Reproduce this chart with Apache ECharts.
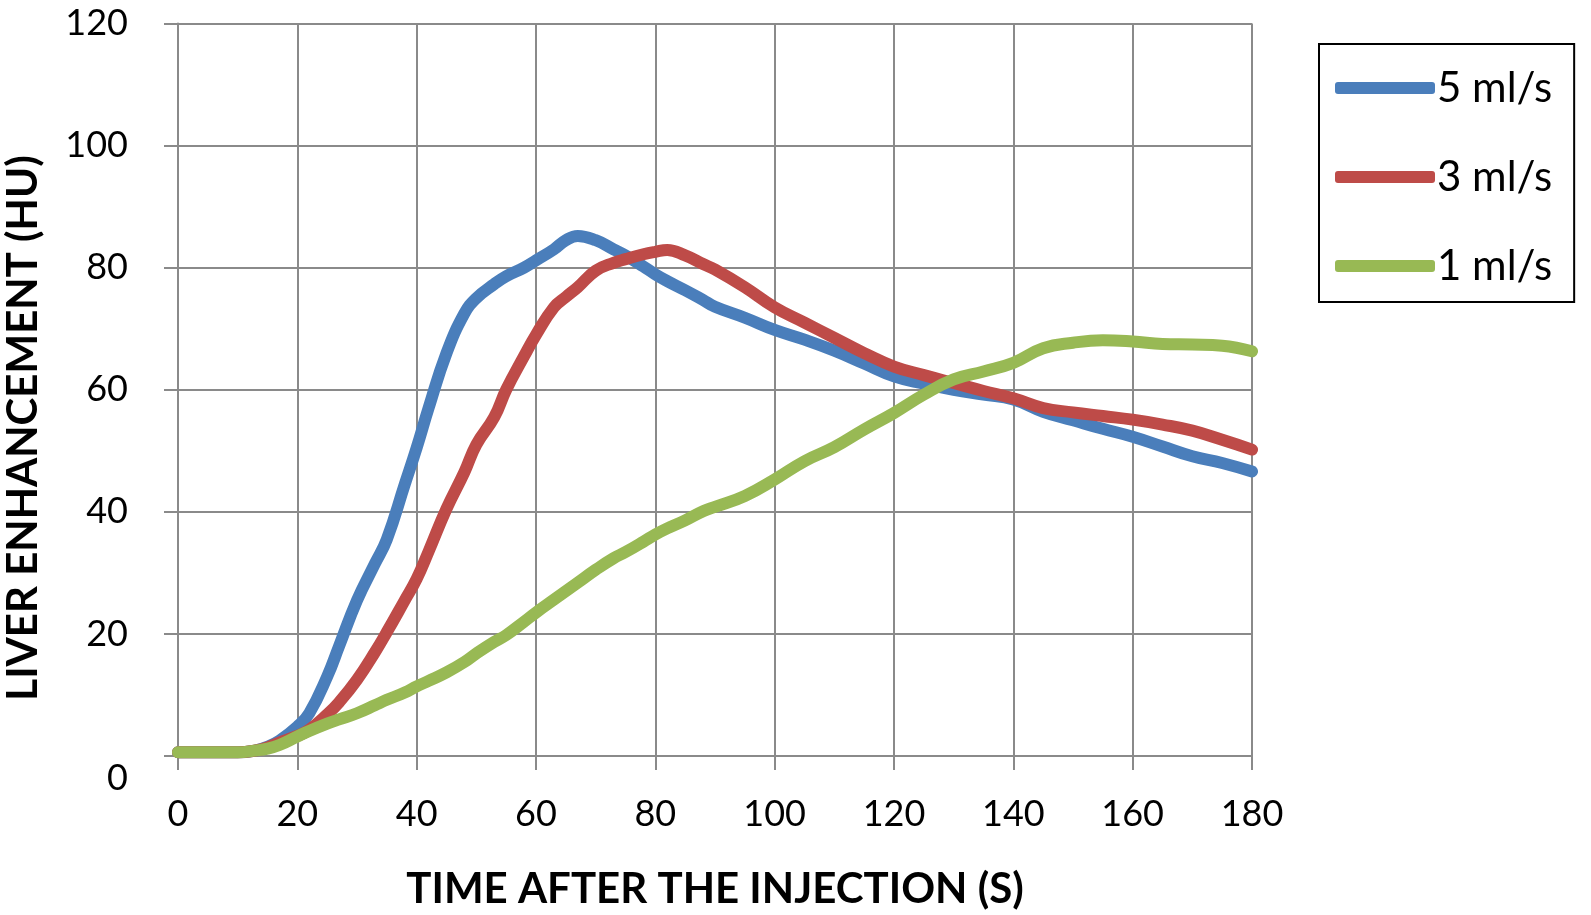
<!DOCTYPE html>
<html>
<head>
<meta charset="utf-8">
<style>
html,body{margin:0;padding:0;background:#fff;}
#chart{width:1591px;height:915px;}
</style>
<script src="https://cdn.jsdelivr.net/npm/echarts@6/dist/echarts.min.js"></script>
</head>
<body>
<div id="chart"></div>
<script>
const time = [0,5,10,13,15,17,20,22,25,27,30,33,35,38,40,42,45,48,50,53,55,58,60,63,65,67,70,73,75,78,80,82,85,88,90,95,100,105,110,115,120,125,130,135,140,145,150,155,160,165,170,175,180];
const rate5 = [0.6,0.6,0.6,0.9,1.5,2.5,4.8,7,13,18,25.5,31.5,35.5,44.5,50.5,57,66,72.5,75,77.3,78.6,80,81.2,83,84.5,85.2,84.5,83,82,80.2,78.9,77.8,76.3,74.7,73.6,71.8,69.8,68.2,66.4,64.3,62.2,61,60,59.2,58.4,56.4,55,53.6,52.3,50.7,49.1,48,46.6];
const rate3 = [0.6,0.6,0.6,0.9,1.4,2.2,3.3,4.3,6.8,8.8,12.5,17,20.3,25.5,29,33.5,40.5,46.5,51,55.5,60,65.5,69,73.5,75.2,76.8,79.5,80.8,81.4,82.2,82.6,82.9,82,80.6,79.7,76.8,73.5,71,68.5,66,63.8,62.4,61.1,59.8,58.6,57,56.3,55.7,55.1,54.3,53.3,51.8,50.2];
const rate1 = [0.6,0.6,0.6,0.9,1.2,1.8,3.2,4.1,5.3,6,7,8.3,9.2,10.4,11.4,12.3,13.7,15.4,16.8,18.7,19.8,22,23.5,25.6,27,28.4,30.5,32.4,33.4,35.1,36.3,37.3,38.6,40.1,40.8,42.6,45.3,48.3,50.6,53.5,56.2,59.2,61.7,63,64.4,66.8,67.7,68.1,67.9,67.5,67.4,67.2,66.3];
const seriesNames = ['5 ml/s','3 ml/s','1 ml/s'];
const colors = ['#4a7ebb','#be4b48','#98b954'];
const xTitle = 'TIME AFTER THE INJECTION (S)';
const yTitle = 'LIVER ENHANCEMENT (HU)';

const FONT = 'Lato, "Open Sans", sans-serif';
const pair = arr => time.map((t,i)=>[t,arr[i]]);
const gridColor = '#8a8a8a';

const chart = echarts.init(document.getElementById('chart'));
chart.setOption({
  animation:false,
  backgroundColor:'#fff',
  grid:{left:178,right:339,top:23.5,bottom:159},
  legend:{
    orient:'vertical', left:1319, top:44,
    padding:[23,22,15,16],
    borderColor:'#000', borderWidth:2,
    itemWidth:100, itemHeight:12, itemGap:47, icon:'roundRect',
    textStyle:{fontFamily:FONT,fontSize:42,color:'#000',lineHeight:40,padding:[0,0,0,-3]},
    data:seriesNames
  },
  xAxis:{
    type:'value', min:0, max:180, interval:20,
    name:xTitle, nameLocation:'middle', nameGap:112,
    nameTextStyle:{fontFamily:FONT,fontSize:42,fontWeight:'bold',color:'#000'},
    axisLine:{show:true,lineStyle:{color:gridColor,width:2}},
    axisTick:{show:true,length:14,lineStyle:{color:gridColor,width:2}},
    splitLine:{show:true,lineStyle:{color:gridColor,width:2}},
    axisLabel:{fontFamily:FONT,fontSize:36,color:'#000',margin:40}
  },
  yAxis:{
    type:'value', min:0, max:120, interval:20,
    axisLine:{show:true,lineStyle:{color:gridColor,width:2}},
    axisTick:{show:true,length:14,lineStyle:{color:gridColor,width:2}},
    splitLine:{show:true,lineStyle:{color:gridColor,width:2}},
    axisLabel:{fontFamily:FONT,fontSize:36,color:'#000',margin:50,
      formatter:v=> v===0 ? '{z|0}' : String(v),
      rich:{z:{fontFamily:FONT,fontSize:36,color:'#000',padding:[44,0,0,0]}}}
  },
  graphic:[{
    type:'text',
    x:23, y:428, rotation:Math.PI/2,
    style:{text:yTitle,fontFamily:FONT,fontSize:42,fontWeight:'bold',fill:'#000',
      align:'center',verticalAlign:'middle'}
  }],
  series:[rate5,rate3,rate1].map((arr,i)=>({
    name:seriesNames[i], type:'line', data:pair(arr),
    smooth:0.45, showSymbol:false, symbol:'none',
    lineStyle:{color:colors[i],width:12,cap:'round',join:'round'},
    itemStyle:{color:colors[i]}
  }))
});
</script>
</body>
</html>
